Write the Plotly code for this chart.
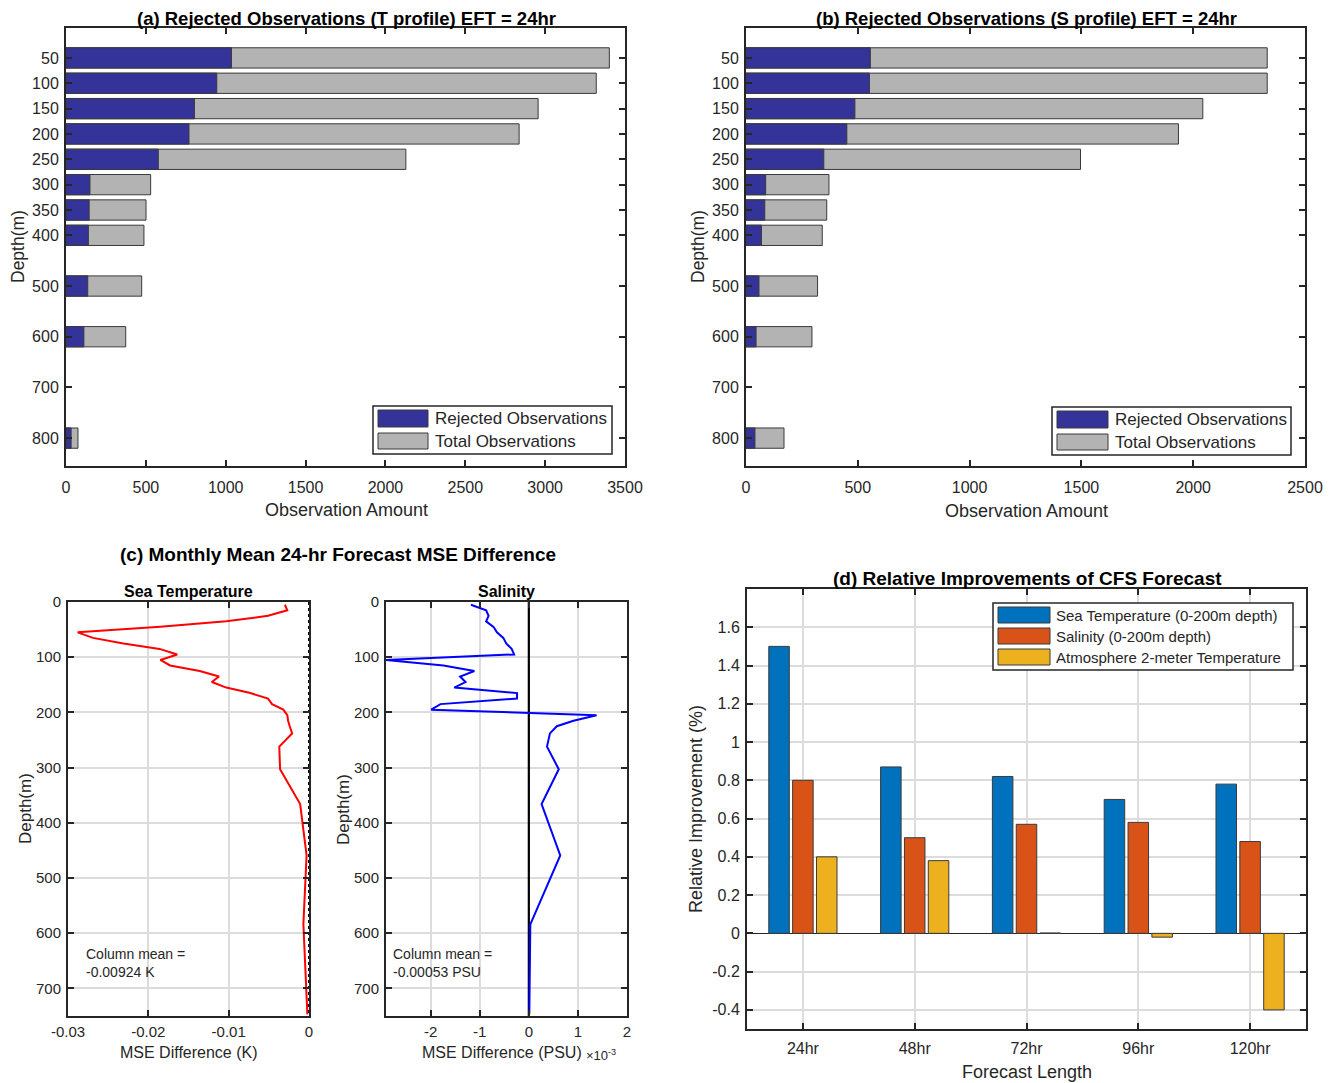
import plotly.graph_objects as go

# page body has an 8px margin, so the figure is placed at (8, 8)
OFF = 8
W, H = 1328, 1075
FONT = "Liberation Sans, Arial, Helvetica, sans-serif"
TXT = "#262626"
GRID = "#dcdcdc"

# ---------------- data ----------------
# (a)/(b) rejected vs total observations per depth
obs_depth = [50, 100, 150, 200, 250, 300, 350, 400, 500, 600, 800]
t_rejected = [1036, 944, 804, 770, 578, 150, 145, 140, 136, 112, 32]
t_total = [3402, 3320, 2956, 2837, 2128, 530, 501, 488, 474, 374, 75]
s_rejected = [556, 552, 487, 451, 348, 88, 84, 69, 58, 45, 40]
s_total = [2331, 2331, 2043, 1934, 1496, 371, 361, 341, 320, 295, 170]
depth_ticks = [50, 100, 150, 200, 250, 300, 350, 400, 500, 600, 700, 800]
obs_a_ticks = [0, 500, 1000, 1500, 2000, 2500, 3000, 3500]
obs_b_ticks = [0, 500, 1000, 1500, 2000, 2500]

# (c) monthly mean 24-hr forecast MSE difference profiles
prof_depth = [5, 15, 25, 35, 45, 55, 65, 75, 85, 95, 105, 115, 125, 135, 145,
              155, 165, 175, 185, 195, 205, 215, 225, 238, 262, 303, 366, 459,
              584, 747]
temp_mse_diff = [-0.0030, -0.0027, -0.0051, -0.0103, -0.0185, -0.0288, -0.0269,
                 -0.0231, -0.0186, -0.0164, -0.0185, -0.0173, -0.0136, -0.0112,
                 -0.0121, -0.0103, -0.0073, -0.0051, -0.0046, -0.0032, -0.0027,
                 -0.0026, -0.0024, -0.0021, -0.0037, -0.0036, -0.0011, -0.0003,
                 -0.0007, -0.0002]
# salinity in units of 1e-3 PSU
sal_mse_diff = [-1.18, -0.87, -0.82, -0.87, -0.72, -0.65, -0.52, -0.46, -0.35,
                -0.30, -2.91, -1.74, -1.11, -1.40, -1.29, -1.52, -0.24, -0.24,
                -1.80, -1.99, 1.38, 0.91, 0.57, 0.43, 0.37, 0.61, 0.26, 0.64,
                0.03, 0.01]
prof_depth_ticks = [0, 100, 200, 300, 400, 500, 600, 700]
temp_ticks = [-0.03, -0.02, -0.01, 0]
temp_tick_text = ["-0.03", "-0.02", "-0.01", "0"]
sal_ticks = [-2, -1, 0, 1, 2]
sal_tick_text = ["-2", "-1", "0", "1", "2"]

# (d) relative improvements
forecast_len = ["24hr", "48hr", "72hr", "96hr", "120hr"]
imp_sea_temp = [1.50, 0.87, 0.82, 0.70, 0.78]
imp_salinity = [0.80, 0.50, 0.57, 0.58, 0.48]
imp_atm_t2m = [0.40, 0.38, 0.002, -0.02, -0.40]
imp_ticks = [-0.4, -0.2, 0, 0.2, 0.4, 0.6, 0.8, 1.0, 1.2, 1.4, 1.6]
imp_tick_text = ["-0.4", "-0.2", "0", "0.2", "0.4", "0.6", "0.8", "1", "1.2", "1.4", "1.6"]

NAVY = "#333399"
LGRAY = "#b3b3b3"
C1, C2, C3 = "#0072BD", "#D95319", "#EDB120"
EDGE = "#3a3a3a"

def px(x):
    return (x - OFF) / W

def py(y):
    return 1 - (y - OFF) / H

fig = go.Figure()

# ---- (a)
fig.add_trace(go.Bar(y=obs_depth, x=t_total, orientation="h", width=40, offset=-20,
                     marker=dict(color=LGRAY, line=dict(color=EDGE, width=1)),
                     name="Total Observations", xaxis="x", yaxis="y", showlegend=False))
fig.add_trace(go.Bar(y=obs_depth, x=t_rejected, orientation="h", width=40, offset=-20,
                     marker=dict(color=NAVY, line=dict(color=EDGE, width=1)),
                     name="Rejected Observations", xaxis="x", yaxis="y", showlegend=False))
# ---- (b)
fig.add_trace(go.Bar(y=obs_depth, x=s_total, orientation="h", width=40, offset=-20,
                     marker=dict(color=LGRAY, line=dict(color=EDGE, width=1)),
                     name="Total Observations", xaxis="x2", yaxis="y2", showlegend=False))
fig.add_trace(go.Bar(y=obs_depth, x=s_rejected, orientation="h", width=40, offset=-20,
                     marker=dict(color=NAVY, line=dict(color=EDGE, width=1)),
                     name="Rejected Observations", xaxis="x2", yaxis="y2", showlegend=False))
# ---- (c) left
fig.add_trace(go.Scatter(x=[0, 0], y=[0, 750], mode="lines",
                         line=dict(color="black", width=2, dash="dot"),
                         xaxis="x3", yaxis="y3", showlegend=False, hoverinfo="skip"))
fig.add_trace(go.Scatter(x=temp_mse_diff, y=prof_depth, mode="lines",
                         line=dict(color="#ff0000", width=2),
                         xaxis="x3", yaxis="y3", showlegend=False, name="Sea Temperature"))
# ---- (c) right
fig.add_trace(go.Scatter(x=[0, 0], y=[0, 750], mode="lines",
                         line=dict(color="black", width=2.2),
                         xaxis="x4", yaxis="y4", showlegend=False, hoverinfo="skip"))
fig.add_trace(go.Scatter(x=sal_mse_diff, y=prof_depth, mode="lines",
                         line=dict(color="#0000ff", width=2),
                         xaxis="x4", yaxis="y4", showlegend=False, name="Salinity"))
# ---- (d)
for vals, col, nm in [(imp_sea_temp, C1, "Sea Temperature (0-200m depth)"),
                      (imp_salinity, C2, "Salinity (0-200m depth)"),
                      (imp_atm_t2m, C3, "Atmosphere 2-meter Temperature")]:
    fig.add_trace(go.Bar(x=forecast_len, y=vals, marker=dict(color=col, line=dict(color=EDGE, width=1)),
                         name=nm, xaxis="x5", yaxis="y5", showlegend=False))

ax_common = dict(showline=True, linecolor=TXT, linewidth=2, mirror="ticks",
                 ticks="inside", ticklen=6, tickwidth=1.5, tickcolor=TXT,
                 tickfont=dict(family=FONT, size=16, color=TXT),
                 zeroline=False, automargin=False, showgrid=False)

fig.update_layout(
    width=W, height=H, margin=dict(l=0, r=0, t=0, b=0),
    paper_bgcolor="white", plot_bgcolor="white",
    barmode="group", bargap=0.36, bargroupgap=0.14,
    font=dict(family=FONT, color=TXT),
    xaxis=dict(ax_common, domain=[px(66), px(625)], anchor="y", range=[0, 3500],
               tickvals=obs_a_ticks, ticklabelstandoff=6),
    yaxis=dict(ax_common, domain=[py(466), py(28)], anchor="x", range=[855, -9],
               tickvals=depth_ticks, ticklabelstandoff=2),
    xaxis2=dict(ax_common, domain=[px(746), px(1305)], anchor="y2", range=[0, 2500],
                tickvals=obs_b_ticks, ticklabelstandoff=6),
    yaxis2=dict(ax_common, domain=[py(466), py(28)], anchor="x2", range=[855, -9],
                tickvals=depth_ticks, ticklabelstandoff=2),
    xaxis3=dict(ax_common, domain=[px(68), px(309)], anchor="y3", range=[-0.03, 0],
                tickvals=temp_ticks, ticktext=temp_tick_text, showgrid=True,
                gridcolor=GRID, gridwidth=1.5, tickfont=dict(family=FONT, size=15, color=TXT),
                ticklabelstandoff=1),
    yaxis3=dict(ax_common, domain=[py(1016), py(602)], anchor="x3", range=[750, 0],
                tickvals=prof_depth_ticks, showgrid=True, gridcolor=GRID, gridwidth=1.5,
                tickfont=dict(family=FONT, size=15, color=TXT), ticklabelstandoff=2),
    xaxis4=dict(ax_common, domain=[px(386), px(627)], anchor="y4", range=[-2.91, 2],
                tickvals=sal_ticks, ticktext=sal_tick_text, showgrid=True,
                gridcolor=GRID, gridwidth=1.5, tickfont=dict(family=FONT, size=15, color=TXT),
                ticklabelstandoff=1),
    yaxis4=dict(ax_common, domain=[py(1016), py(602)], anchor="x4", range=[750, 0],
                tickvals=prof_depth_ticks, showgrid=True, gridcolor=GRID, gridwidth=1.5,
                tickfont=dict(family=FONT, size=15, color=TXT), ticklabelstandoff=2),
    xaxis5=dict(ax_common, domain=[px(747), px(1306)], anchor="y5", range=[-0.5, 4.5],
                type="category", showgrid=True, gridcolor=GRID, gridwidth=1.5,
                ticklabelstandoff=4),
    yaxis5=dict(ax_common, domain=[py(1029), py(589)], anchor="x5", range=[-0.5, 1.8],
                tickvals=imp_ticks, ticktext=imp_tick_text, showgrid=True, gridcolor=GRID,
                gridwidth=1.5, zeroline=True, zerolinecolor=TXT, zerolinewidth=1.2,
                ticklabelstandoff=2),
)

ann = []
shapes = []

def text(x, y, s, size=16, bold=False, angle=0, xanchor="center", yanchor="middle"):
    ann.append(dict(x=px(x), y=py(y), xref="paper", yref="paper", showarrow=False,
                    text=("<b>%s</b>" % s) if bold else s, textangle=angle,
                    xanchor=xanchor, yanchor=yanchor,
                    font=dict(family=FONT, size=size, color="black" if bold else TXT)))

# titles
text(346, 19, "(a) Rejected Observations (T profile) EFT = 24hr", 18.5, True)
text(1026, 19, "(b) Rejected Observations (S profile) EFT = 24hr", 18.5, True)
text(338, 554, "(c) Monthly Mean 24-hr Forecast MSE Difference", 19, True)
text(188, 591, "Sea Temperature", 16, True)
text(506, 591, "Salinity", 16, True)
text(1027, 578, "(d) Relative Improvements of CFS Forecast", 19, True)
# axis titles
text(346, 510, "Observation Amount", 18)
text(1026, 511, "Observation Amount", 18)
text(18, 247, "Depth(m)", 17.5, angle=-90)
text(698, 247, "Depth(m)", 17.5, angle=-90)
text(25, 809, "Depth(m)", 17, angle=-90)
text(343, 809, "Depth(m)", 17, angle=-90)
text(189, 1052, "MSE Difference (K)", 16)
text(502, 1052, "MSE Difference (PSU)", 16)
text(584, 1055, "×10<sup>-3</sup>", 13, xanchor="left")
text(1027, 1072, "Forecast Length", 18)
text(696, 809, "Relative Improvement (%)", 18, angle=-90)
# column means
text(84, 954, "Column mean =", 14, xanchor="left")
text(84, 972, "-0.00924 K", 14, xanchor="left")
text(391, 954, "Column mean =", 14, xanchor="left")
text(391, 972, "-0.00053 PSU", 14, xanchor="left")

def rect(x0, y0, x1, y1, fill, line="black", lw=1):
    shapes.append(dict(type="rect", xref="paper", yref="paper",
                       x0=px(x0), x1=px(x1), y0=py(y1), y1=py(y0),
                       fillcolor=fill, line=dict(color=line, width=lw)))

def legend(x0, y0, x1, y1, items, px0, px1, ys, tx, size):
    rect(x0, y0, x1, y1, "white", TXT, 1.5)
    for (lab, col), (ya, yb) in zip(items, ys):
        rect(px0, ya, px1, yb, col, EDGE, 1)
        text(tx, (ya + yb) / 2, lab, size, xanchor="left")

legend(373, 406, 612, 454, [("Rejected Observations", NAVY), ("Total Observations", LGRAY)],
       378, 428, [(410, 427), (433, 449)], 433, 17)
legend(1052, 407, 1291, 455, [("Rejected Observations", NAVY), ("Total Observations", LGRAY)],
       1057, 1108, [(411, 428), (434, 450)], 1113, 17)
legend(993, 603, 1293, 670, [("Sea Temperature (0-200m depth)", C1),
                             ("Salinity (0-200m depth)", C2),
                             ("Atmosphere 2-meter Temperature", C3)],
       998, 1050, [(607, 623), (628, 644), (649, 665)], 1054, 15)

fig.update_layout(annotations=ann, shapes=shapes)
fig.write_html("out.html")
